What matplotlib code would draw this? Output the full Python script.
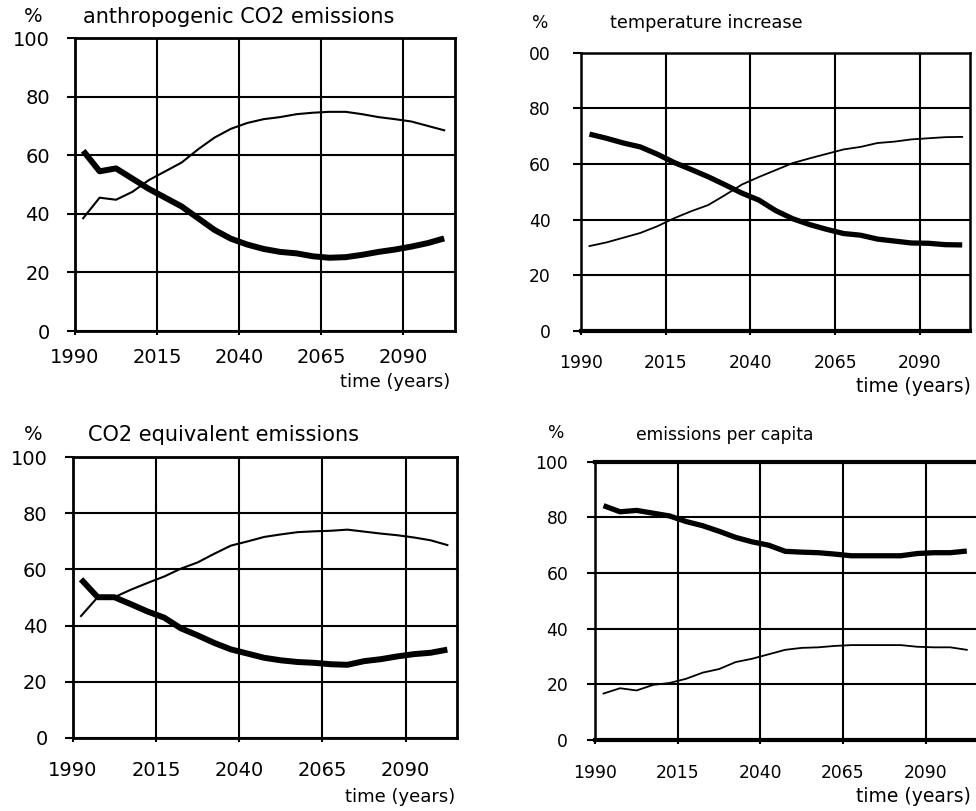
import matplotlib
matplotlib.use("Agg")
import matplotlib.pyplot as plt

# ---------------- data ----------------
years = [1992.5, 1997.5, 2002.5, 2007.5, 2012.5, 2017.5, 2022.5, 2027.5, 2032.5,
         2037.5, 2042.5, 2047.5, 2052.5, 2057.5, 2062.5, 2067.5, 2072.5, 2077.5,
         2082.5, 2087.5, 2092.5, 2097.5, 2102.5]

x_ticks = [1990, 2015, 2040, 2065, 2090]
y_ticks = [0, 20, 40, 60, 80, 100]
y_labels_std = ["0", "20", "40", "60", "80", "100"]
y_labels_temp = ["0", "20", "40", "60", "80", "00"]

titles = ["anthropogenic CO2 emissions", "temperature increase",
          "CO2 equivalent emissions", "emissions per capita"]
x_label = "time (years)"

co2_thick = [61.5, 54.5, 55.5, 52.0, 48.5, 45.5, 42.5, 38.5, 34.5, 31.5, 29.5, 28.0,
             27.0, 26.5, 25.5, 25.0, 25.2, 26.0, 27.0, 27.8, 28.8, 30.0, 31.6]
co2_thin = [38.5, 45.5, 44.8, 47.5, 51.5, 54.5, 57.5, 62.0, 66.0, 69.0, 71.0, 72.3,
            73.0, 74.0, 74.5, 74.8, 74.8, 74.0, 73.0, 72.3, 71.5, 70.0, 68.5]

temp_thick = [70.7, 69.2, 67.5, 66.1, 63.5, 60.5, 58.0, 55.4, 52.5, 49.5, 47.0, 43.2,
              40.3, 38.2, 36.5, 35.0, 34.4, 33.0, 32.3, 31.6, 31.5, 31.0, 30.9]
temp_thin = [30.5, 31.8, 33.5, 35.2, 37.6, 40.5, 43.0, 45.2, 48.8, 52.6, 55.3, 57.8,
             60.3, 62.0, 63.6, 65.2, 66.1, 67.5, 68.0, 68.8, 69.2, 69.6, 69.7]

eq_thick = [56.5, 50.1, 50.1, 47.6, 45.0, 42.8, 39.0, 36.5, 33.8, 31.5, 30.0, 28.5,
            27.6, 27.0, 26.7, 26.2, 26.0, 27.3, 28.0, 29.0, 29.8, 30.3, 31.4]
eq_thin = [43.4, 50.1, 50.1, 52.8, 55.2, 57.5, 60.3, 62.5, 65.6, 68.5, 70.0, 71.6,
           72.5, 73.3, 73.6, 73.8, 74.2, 73.5, 72.8, 72.2, 71.4, 70.4, 68.7]

cap_thick = [84.2, 82.0, 82.5, 81.5, 80.5, 78.5, 77.0, 75.0, 72.8, 71.2, 70.0, 67.8,
             67.5, 67.3, 66.8, 66.2, 66.2, 66.2, 66.2, 67.0, 67.3, 67.3, 67.9]
cap_thin = [16.7, 18.6, 17.8, 19.8, 20.5, 22.0, 24.2, 25.5, 28.0, 29.2, 30.8, 32.4,
            33.1, 33.3, 33.8, 34.1, 34.1, 34.1, 34.1, 33.5, 33.3, 33.3, 32.4]

# ---------------- figure ----------------
W, H = 976, 811
fig = plt.figure(figsize=(W / 100, H / 100), dpi=100)
plt.rcParams['font.family'] = ['DejaVu Sans']


def rect_px(left, top, right, bottom):
    return [left / W, 1 - bottom / H, (right - left) / W, (bottom - top) / H]


def ftext(x, y, s, size, ha="left"):
    fig.text(x / W, 1 - y / H, s, fontsize=size, ha=ha, va="center", color="black")


def panel(rect, x_max, thick, thin, ylabels, fs, ypad, xpad, lw_thick, lw_thin,
          spine_lw, bottom_lw=None, top_lw=None, right_visible=True):
    ax = fig.add_axes(rect_px(*rect))
    ax.set_xlim(1990, x_max)
    ax.set_ylim(0, 100)
    ax.set_xticks(x_ticks)
    ax.set_xticklabels([str(t) for t in x_ticks])
    ax.set_yticks(y_ticks)
    ax.set_yticklabels(ylabels)
    ax.grid(True, color="black", linewidth=1.5)
    ax.set_axisbelow(True)
    ax.plot(years, thin, color="black", linewidth=lw_thin, solid_joinstyle="round",
            zorder=3, clip_on=False)
    ax.plot(years, thick, color="black", linewidth=lw_thick, solid_joinstyle="round",
            solid_capstyle="butt", zorder=4, clip_on=False)
    for s in ax.spines.values():
        s.set_linewidth(spine_lw)
        s.set_color("black")
    if bottom_lw:
        ax.spines["bottom"].set_linewidth(bottom_lw)
    if top_lw:
        ax.spines["top"].set_linewidth(top_lw)
    if not right_visible:
        ax.spines["right"].set_visible(False)
    ax.tick_params(axis="y", direction="out", length=6, width=1.5, pad=ypad,
                   labelsize=fs)
    ax.tick_params(axis="x", direction="out", length=3, width=1.5, pad=xpad,
                   labelsize=fs)
    return ax


# top-left: anthropogenic CO2
panel((75, 38, 455, 331), 2105.8, co2_thick, co2_thin, y_labels_std,
      14, 12, 9, 4.3, 1.5, 2.0)
ftext(33, 17, "%", 14, ha="center")
ftext(83, 17, titles[0], 15)
ftext(450, 382, x_label, 13, ha="right")

# top-right: temperature increase
panel((581, 52.5, 970, 331), 2104.8, temp_thick, temp_thin, y_labels_temp,
      12.3, 16, 13.5, 3.8, 1.3, 1.8, bottom_lw=3.0)
ftext(540, 23, "%", 12.3, ha="center")
ftext(610, 23, titles[1], 12.8)
ftext(971, 387, x_label, 13.5, ha="right")

# bottom-left: CO2 equivalent
panel((72.7, 457.3, 457, 737.7), 2105.4, eq_thick, eq_thin, y_labels_std,
      14, 12, 14, 4.3, 1.5, 2.0)
ftext(33, 435, "%", 14, ha="center")
ftext(88, 435, titles[2], 15)
ftext(455, 797, x_label, 13, ha="right")

# bottom-right: emissions per capita
panel((595.3, 461.7, 981, 740), 2106.8, cap_thick, cap_thin, y_labels_std,
      12.3, 13.5, 14, 3.8, 1.3, 1.8, bottom_lw=3.0, top_lw=3.0,
      right_visible=False)
ftext(556, 433, "%", 12.3, ha="center")
ftext(636, 435, titles[3], 12.3)
ftext(971, 797, x_label, 13.5, ha="right")

fig.savefig("out.png", dpi=100, facecolor="white")
